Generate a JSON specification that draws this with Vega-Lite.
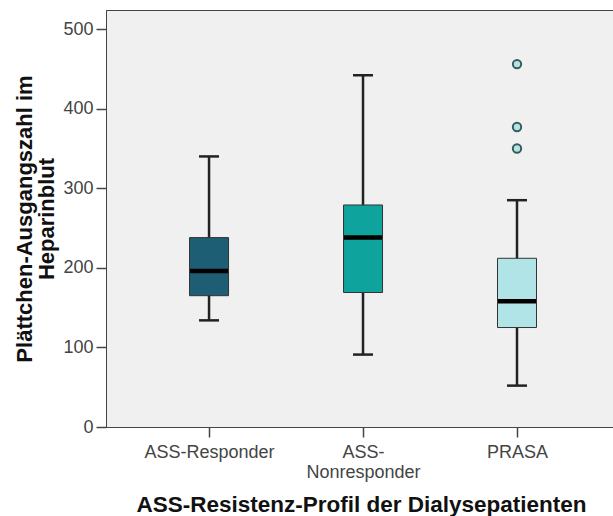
{
  "$schema": "https://vega.github.io/schema/vega-lite/v6.json",
  "width": 510,
  "height": 417,
  "autosize": {"type": "none"},
  "padding": {"left": 106, "top": 10, "right": 0, "bottom": 89},
  "background": "white",
  "config": {
    "font": "Liberation Sans",
    "view": {"fill": "#f0f0f0", "stroke": "#444", "strokeWidth": 1},
    "tick": {"opacity": 1},
    "bar": {"opacity": 1}
  },
  "datasets": {
    "boxes": [
      {"group": "ASS-Responder", "lower": 134, "q1": 165, "median": 196, "q3": 238, "upper": 340},
      {"group": "ASS-Nonresponder", "lower": 91, "q1": 169, "median": 238, "q3": 279, "upper": 442},
      {"group": "PRASA", "lower": 52, "q1": 125, "median": 158, "q3": 212, "upper": 285}
    ],
    "outliers": [
      {"group": "PRASA", "value": 350},
      {"group": "PRASA", "value": 377},
      {"group": "PRASA", "value": 456}
    ]
  },
  "encoding": {
    "x": {
      "field": "group", "type": "nominal",
      "sort": ["ASS-Responder", "ASS-Nonresponder", "PRASA"],
      "scale": {"type": "point", "padding": 0.656, "align": 0.51},
      "axis": {
        "title": "ASS-Resistenz-Profil der Dialysepatienten",
        "titleFontSize": 22.5, "titleFontWeight": "bold", "titleColor": "#111",
        "titlePadding": 12,
        "labelAngle": 0, "labelFontSize": 18, "labelColor": "#444",
        "labelExpr": "datum.value == 'ASS-Nonresponder' ? ['ASS-', 'Nonresponder'] : datum.label",
        "labelLineHeight": 20,
        "tickSize": 10, "tickWidth": 1.5, "tickColor": "#444", "domainColor": "#444", "labelPadding": 6
      }
    }
  },
  "layer": [
    {
      "data": {"name": "boxes"},
      "mark": {"type": "rule", "color": "#222", "strokeWidth": 2.5},
      "encoding": {
        "y": {"field": "lower", "type": "quantitative",
          "scale": {"domain": [0, 524], "nice": false},
          "axis": {
            "title": ["Plättchen-Ausgangszahl im", "Heparinblut"],
            "titleFontSize": 22, "titleFontWeight": "bold", "titleColor": "#111",
            "titleLineHeight": 22, "titlePadding": 4,
            "values": [0, 100, 200, 300, 400, 500],
            "labelFontSize": 18, "labelColor": "#444", "grid": false,
            "tickSize": 10, "tickWidth": 1.5, "tickColor": "#444", "domainColor": "#444", "labelPadding": 3
          }
        },
        "y2": {"field": "upper"}
      }
    },
    {
      "data": {"name": "boxes"},
      "mark": {"type": "tick", "color": "#222", "size": 20, "thickness": 2.5, "orient": "horizontal"},
      "encoding": {"y": {"field": "lower", "type": "quantitative"}}
    },
    {
      "data": {"name": "boxes"},
      "mark": {"type": "tick", "color": "#222", "size": 20, "thickness": 2.5, "orient": "horizontal"},
      "encoding": {"y": {"field": "upper", "type": "quantitative"}}
    },
    {
      "data": {"name": "boxes"},
      "mark": {"type": "bar", "width": 39, "stroke": "#333", "strokeWidth": 1},
      "encoding": {
        "y": {"field": "q1", "type": "quantitative"},
        "y2": {"field": "q3"},
        "color": {
          "field": "group", "type": "nominal", "legend": null,
          "scale": {"domain": ["ASS-Responder", "ASS-Nonresponder", "PRASA"], "range": ["#1e5e74", "#0ea39c", "#b1e4e6"]}
        }
      }
    },
    {
      "data": {"name": "boxes"},
      "mark": {"type": "tick", "color": "#000", "size": 38, "thickness": 4.5, "orient": "horizontal"},
      "encoding": {"y": {"field": "median", "type": "quantitative"}}
    },
    {
      "data": {"name": "outliers"},
      "mark": {"type": "point", "shape": "circle", "filled": true, "fill": "#b1e4e6", "stroke": "#3a5a5a", "strokeWidth": 2, "size": 70, "opacity": 1},
      "encoding": {"y": {"field": "value", "type": "quantitative"}}
    }
  ]
}
